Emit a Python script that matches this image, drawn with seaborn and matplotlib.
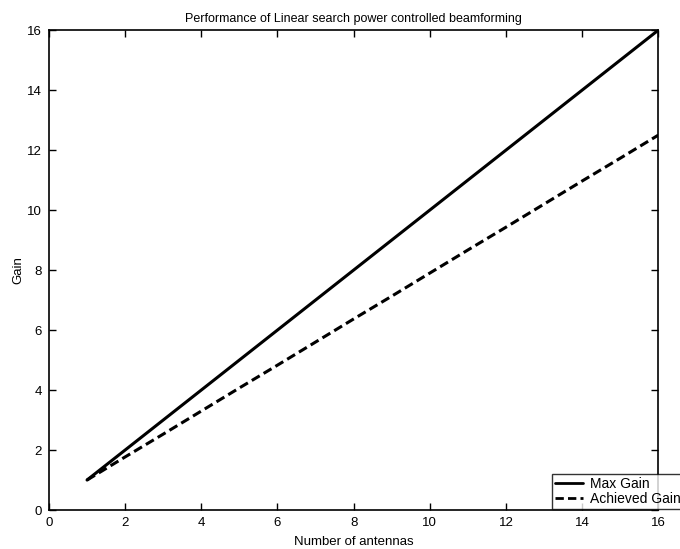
import matplotlib
matplotlib.use("Agg")
import matplotlib.pyplot as plt
import seaborn as sns
import pandas as pd

antennas = list(range(1, 17))
max_gain = [1, 2, 3, 4, 5, 6, 7, 8, 9, 10, 11, 12, 13, 14, 15, 16]
achieved_gain = [1.0, 1.77, 2.53, 3.3, 4.07, 4.83, 5.6, 6.37, 7.13, 7.9,
                 8.67, 9.43, 10.2, 10.97, 11.73, 12.5]
ticks = [0, 2, 4, 6, 8, 10, 12, 14, 16]

sns.set_style("ticks")
plt.rcParams['font.family'] = ['Liberation Sans', 'DejaVu Sans']
plt.rcParams['text.color'] = 'black'
plt.rcParams['axes.labelcolor'] = 'black'

df = pd.DataFrame({
    "Number of antennas": antennas * 2,
    "Gain": max_gain + achieved_gain,
    "series": ["Max Gain"] * 16 + ["Achieved Gain"] * 16,
})

fig = plt.figure(figsize=(6.8, 5.49), dpi=100)
ax = fig.add_axes([0.072, 0.071, 0.896, 0.874])

sns.lineplot(data=df, x="Number of antennas", y="Gain", hue="series",
             style="series", palette=["black", "black"],
             dashes={"Max Gain": "", "Achieved Gain": (3, 1.5)},
             linewidth=2.2, ax=ax, legend=True)

ax.set_xlim(0, 16)
ax.set_ylim(0, 16)
ax.set_xticks(ticks)
ax.set_yticks(ticks)
ax.tick_params(direction="in", top=True, right=True, labelsize=9.5, length=5,
               width=1, colors="black", pad=5)
for s in ax.spines.values():
    s.set_visible(True)
    s.set_color("black")
    s.set_linewidth(1.2)

ax.set_title("Performance of Linear search power controlled beamforming",
             fontsize=9, pad=6, color="black")
ax.set_xlabel("Number of antennas", fontsize=9.5, labelpad=5)
ax.set_ylabel("Gain", fontsize=9.5, labelpad=2)

leg = ax.legend(loc="upper left", bbox_to_anchor=(0.826, 0.075),
                frameon=True, fancybox=False, fontsize=10,
                handlelength=2.0, borderpad=0.2, labelspacing=0.1,
                handletextpad=0.5, borderaxespad=0)
leg.get_frame().set_edgecolor("black")
leg.get_frame().set_linewidth(1.0)
for t in leg.get_texts():
    t.set_color("black")
for h in leg.get_lines():
    h.set_linewidth(2.0)

fig.savefig("out.png", dpi=100)
